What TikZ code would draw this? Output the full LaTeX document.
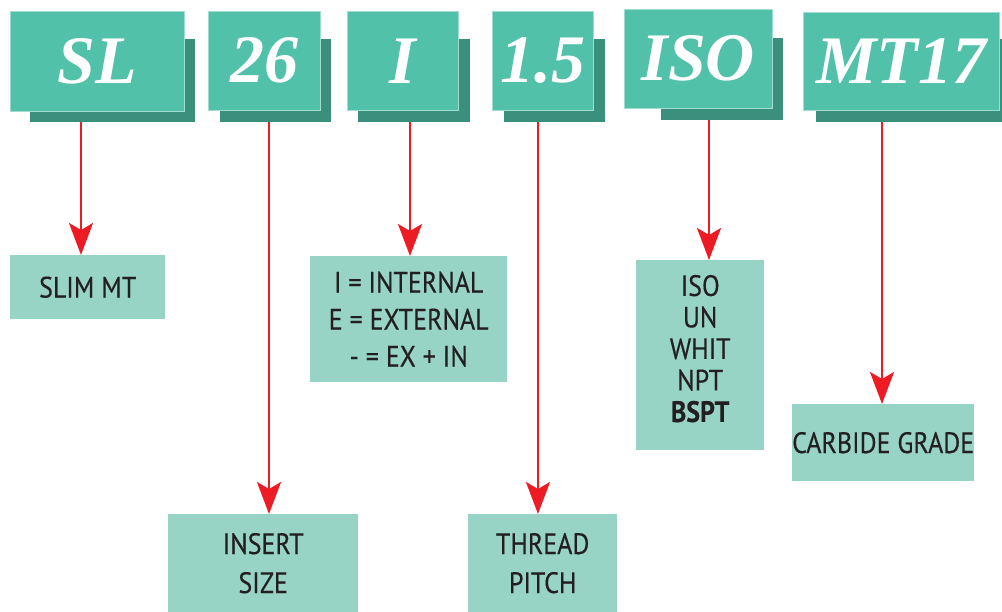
\documentclass[tikz,border=0pt]{standalone}
\usepackage{fontspec}
\setmainfont{Liberation Serif}
\setsansfont{PT Sans}[FakeStretch=0.88,FakeBold=0.3]
\usetikzlibrary{arrows.meta,positioning,backgrounds}
\definecolor{codefront}{RGB}{82,193,169}
\definecolor{codeshadow}{RGB}{58,143,125}
\definecolor{descfill}{RGB}{151,212,197}
\definecolor{desctext}{RGB}{35,31,32}
\definecolor{pointer}{RGB}{237,28,36}

\begin{document}
\begin{tikzpicture}[x=1pt,y=-1pt,
  code/.style={fill=codefront,draw=white!45!codefront,line width=0.6pt,anchor=north west,inner sep=0pt,text=white,font=\fontsize{68}{68}\selectfont\bfseries\itshape},
  backdrop/.style={fill=codeshadow,anchor=north west,inner sep=0pt},
  desc/.style={fill=descfill,anchor=north west,inner sep=0pt,align=center,text=desctext,font=\sffamily\fontsize{29.5}{37}\selectfont},
  link/.style={draw=pointer,line width=2.6pt,-{Stealth[length=32pt,width=24pt,inset=7pt]}}
]
\useasboundingbox (0,0) rectangle (1002,612);

% code letters
\begin{scope}[on background layer]
\node[backdrop,minimum width=165pt,minimum height=83pt] (slS) at (30,39) {};
\node[backdrop,minimum width=111pt,minimum height=83pt] (sizeS) at (220,39) {};
\node[backdrop,minimum width=112pt,minimum height=83pt] (kindS) at (358,39) {};
\node[backdrop,minimum width=101pt,minimum height=83pt] (pitchS) at (504,39) {};
\node[backdrop,minimum width=122pt,minimum height=82pt] (isoS) at (661,38) {};
\node[backdrop,minimum width=186pt,minimum height=83pt] (gradeS) at (816,39) {};
\end{scope}
\node[code,minimum width=174pt,minimum height=100pt] (sl) at (10,11) {SL};
\node[code,minimum width=112pt,minimum height=99pt] (size) at (208,11) {26};
\node[code,minimum width=111pt,minimum height=99pt] (kind) at (347,11) {I};
\node[code,minimum width=101pt,minimum height=99pt] (pitch) at (492,11) {1.5};
\node[code,minimum width=148pt,minimum height=99pt] (iso) at (624,9) {ISO};
\node[code,minimum width=196pt,minimum height=98pt] (grade) at (803,12) {MT17};

% meanings
\node[desc,minimum width=155pt,minimum height=64pt] (slim) at (10,255) {SLIM MT};
\node[desc,minimum width=190pt,minimum height=98pt,font=\sffamily\fontsize{29.5}{39}\selectfont] (insert) at (168,514) {INSERT\\SIZE};
\node[desc,minimum width=197pt,minimum height=126pt] (type) at (310,256) {I = INTERNAL\\E = EXTERNAL\\- = EX + IN};
\node[desc,minimum width=149pt,minimum height=98pt,font=\sffamily\fontsize{29.5}{39}\selectfont] (thread) at (468,514) {THREAD\\PITCH};
\node[desc,minimum width=128pt,minimum height=190pt,font=\sffamily\fontsize{29.5}{31.5}\selectfont] (std) at (636,260) {ISO\\UN\\WHIT\\NPT\\\textbf{BSPT}\\[-18pt]\mbox{}};
\node[desc,minimum width=181pt,minimum height=77pt] (carbide) at (792,404) {CARBIDE GRADE};

% pointers
\coordinate (x1) at (81,0);
\coordinate (x2) at (269,0);
\coordinate (x3) at (410,0);
\coordinate (x4) at (538,0);
\coordinate (x5) at (709,0);
\coordinate (x6) at (882,0);
\draw[link] (slS.south -| x1) -- (slim.north -| x1);
\draw[link] (sizeS.south -| x2) -- (insert.north -| x2);
\draw[link] (kindS.south -| x3) -- (type.north -| x3);
\draw[link] (pitchS.south -| x4) -- (thread.north -| x4);
\draw[link] (isoS.south -| x5) -- (std.north -| x5);
\draw[link] (gradeS.south -| x6) -- (carbide.north -| x6);
\end{tikzpicture}
\end{document}
